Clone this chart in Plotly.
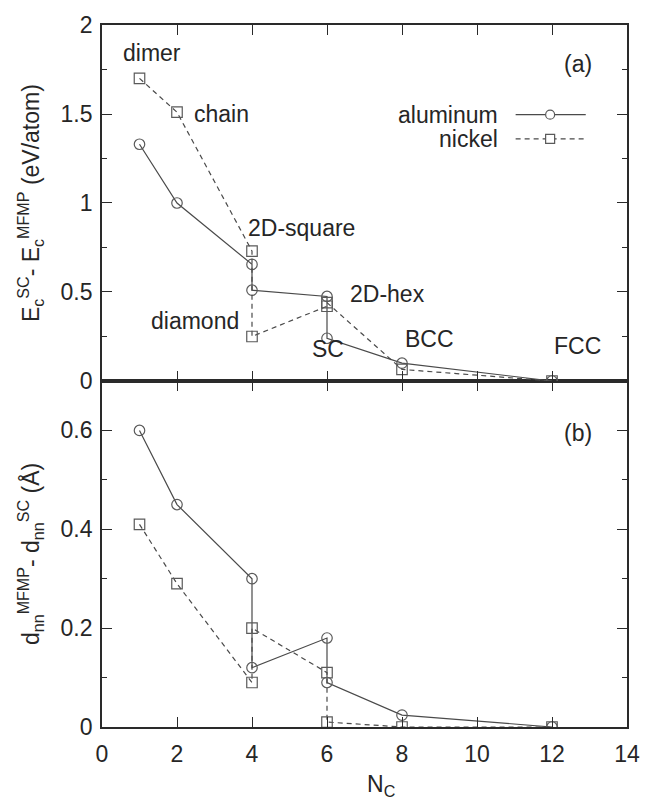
import plotly.graph_objects as go

# ---- data ----
structures = ["dimer", "chain", "2D-square", "diamond", "2D-hex", "SC", "BCC", "FCC"]
nc_al = [1, 2, 4, 4, 6, 6, 8, 12]
ec_al = [1.33, 1.00, 0.655, 0.51, 0.475, 0.24, 0.10, 0.00]
nc_ni = [1, 2, 4, 4, 6, 6, 8, 12]
ec_ni = [1.70, 1.51, 0.73, 0.25, 0.42, 0.44, 0.065, 0.00]
dnn_al = [0.60, 0.45, 0.30, 0.12, 0.18, 0.09, 0.024, 0.00]
dnn_ni = [0.41, 0.29, 0.09, 0.20, 0.11, 0.01, 0.00, 0.00]
series_names = ["aluminum", "nickel"]
x_ticks = [0, 2, 4, 6, 8, 10, 12, 14]

FONT = "Liberation Sans, Arial, sans-serif"
FS = 23
LINE_C = "#4a4a4a"
MARK_C = "#5a5a5a"
AX_C = "#2a2a2a"
TXT_C = "#262626"

fig = go.Figure()

def add_series(x, y, dash, symbol, xa, ya):
    fig.add_trace(go.Scatter(
        x=x, y=y, mode="lines+markers", xaxis=xa, yaxis=ya, showlegend=False,
        line=dict(color=LINE_C, width=1.2, dash=dash),
        marker=dict(symbol=symbol, size=10.5, color=MARK_C, line=dict(width=1.2, color=MARK_C)),
    ))

# top panel (a)
add_series(nc_al, ec_al, "solid", "circle-open", "x2", "y2")
add_series(nc_ni, ec_ni, "5px,4px", "square-open", "x2", "y2")
# bottom panel (b)
add_series(nc_al, dnn_al, "solid", "circle-open", "x", "y")
add_series(nc_ni, dnn_ni, "5px,4px", "square-open", "x", "y")

split = 0.4929
common_x = dict(range=[0, 14], tickvals=x_ticks, ticks="inside", ticklen=10, tickwidth=1.2,
                tickcolor=AX_C, showline=True, linecolor=AX_C, linewidth=1.8, mirror="ticks",
                showgrid=False, zeroline=False,
                tickfont=dict(family=FONT, size=FS, color=TXT_C))
common_y = dict(ticks="inside", ticklen=10, tickwidth=1.2, tickcolor=AX_C, showline=True,
                linecolor=AX_C, linewidth=1.8, mirror="ticks", showgrid=False, zeroline=False,
                tickfont=dict(family=FONT, size=FS, color=TXT_C), ticklabelstandoff=3)

fig.update_layout(
    width=652, height=801,
    margin=dict(l=102, r=17, t=23, b=74),
    paper_bgcolor="white", plot_bgcolor="white",
    font=dict(family=FONT, size=FS, color=TXT_C),
    xaxis=dict(**common_x, anchor="y", ticklabelstandoff=5),
    xaxis2=dict(**common_x, anchor="y2", matches="x", showticklabels=False),
    yaxis=dict(**common_y, domain=[0, split], anchor="x", range=[0, 0.7],
               tickvals=[0, 0.2, 0.4, 0.6], ticktext=["0", "0.2", "0.4", "0.6"],
               minor=dict(tickvals=[0.1, 0.3, 0.5], ticklen=5, tickwidth=1.2, tickcolor=AX_C, ticks="inside")),
    yaxis2=dict(**common_y, domain=[split, 1], anchor="x2", range=[0, 2],
                tickvals=[0, 0.5, 1, 1.5, 2], ticktext=["0", "0.5", "1", "1.5", "2"],
                minor=dict(tickvals=[0.25, 0.75, 1.25, 1.75], ticklen=5, tickwidth=1.2, tickcolor=AX_C, ticks="inside")),
)

# structure labels (top panel)
label_pos = [
    (1.34, 1.84, "center"),
    (2.39, 1.50, "left"),
    (3.83, 0.857, "left"),
    (3.70, 0.336, "right"),
    (6.57, 0.487, "left"),
    (6.02, 0.18, "center"),
    (8.72, 0.235, "center"),
    (12.69, 0.196, "center"),
]
for name, (lx, ly, anc) in zip(structures, label_pos):
    fig.add_annotation(x=lx, y=ly, xref="x2", yref="y2", text=name, showarrow=False,
                       xanchor=anc, yanchor="middle", font=dict(family=FONT, size=FS, color=TXT_C))

# panel labels
fig.add_annotation(x=12.69, y=1.78, xref="x2", yref="y2", text="(a)", showarrow=False,
                   font=dict(family=FONT, size=FS, color=TXT_C))
fig.add_annotation(x=12.69, y=0.595, xref="x", yref="y", text="(b)", showarrow=False,
                   font=dict(family=FONT, size=FS, color=TXT_C))

# legend (drawn manually, gnuplot style: text then sample)
leg_rows = [(1.496, "solid", "circle"), (1.36, "dash", "rect")]
for name, (ly, dash, shp) in zip(series_names, leg_rows):
    fig.add_annotation(x=10.6, y=ly, xref="x2", yref="y2", text=name, showarrow=False,
                       xanchor="right", yanchor="middle", font=dict(family=FONT, size=FS, color=TXT_C))
    fig.add_shape(type="line", xref="x2", yref="y2", x0=11.03, x1=12.9, y0=ly, y1=ly,
                  line=dict(color=LINE_C, width=1.2, dash="5px,4px" if dash == "dash" else "solid"))
    fig.add_shape(type=shp, xref="x2", yref="y2", xsizemode="pixel", ysizemode="pixel",
                  xanchor=11.95, yanchor=ly, x0=-4.5, x1=4.5, y0=-4.5, y1=4.5,
                  line=dict(color=MARK_C, width=1.2), fillcolor="white")

# axis titles
fig.add_annotation(x=-0.137, y=0.5 * (split + 1), xref="paper", yref="paper",
                   text="E<sub>c</sub><sup>SC</sup>- E<sub>c</sub><sup>MFMP</sup> (eV/atom)",
                   textangle=-90, showarrow=False, xanchor="center", yanchor="middle",
                   font=dict(family=FONT, size=FS, color=TXT_C))
fig.add_annotation(x=-0.137, y=0.5 * split, xref="paper", yref="paper",
                   text="d<sub>nn</sub><sup>MFMP</sup>- d<sub>nn</sub><sup>SC</sup> (Å)",
                   textangle=-90, showarrow=False, xanchor="center", yanchor="middle",
                   font=dict(family=FONT, size=FS, color=TXT_C))
fig.add_annotation(x=7.45, y=-0.083, xref="x", yref="paper", text="N<sub>C</sub>",
                   showarrow=False, xanchor="center", yanchor="middle",
                   font=dict(family=FONT, size=FS, color=TXT_C))

fig.write_html("out.html")
